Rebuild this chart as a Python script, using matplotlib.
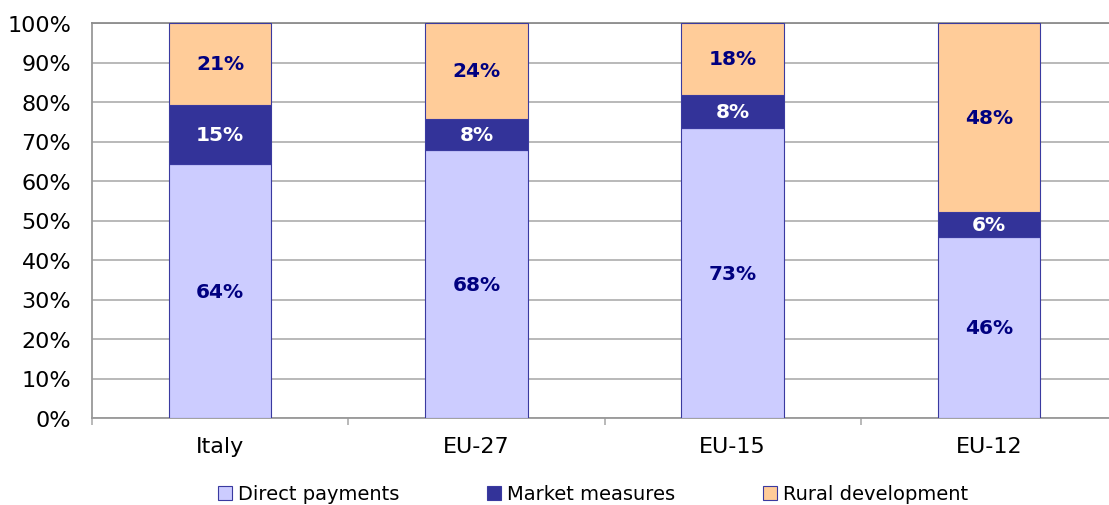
import matplotlib.pyplot as plt
import numpy as np

# shares of CAP spending (%)
regions = ['Italy', 'EU-27', 'EU-15', 'EU-12']
direct = [64.3, 67.8, 73.4, 45.8]
market = [15.0, 7.9, 8.4, 6.4]
rural = [20.7, 24.3, 18.2, 47.8]
series_names = ['Direct payments', 'Market measures', 'Rural development']

colors = ['#CCCCFF', '#333399', '#FFCC99']
label_colors = ['#000080', 'white', '#000080']
edge = '#3A3AA0'
grid_col = '#B3B3B3'

fig = plt.figure(figsize=(11.09, 5.06), dpi=100)
ax = fig.add_axes([92 / 1109, 87 / 506, 1025 / 1109, 395 / 506])

x = np.arange(len(regions))
bottom = np.zeros(len(regions))
for vals, col, lcol, name in zip([direct, market, rural], colors, label_colors, series_names):
    vals = np.array(vals)
    ax.bar(x, vals, 0.4, bottom=bottom, color=col, edgecolor=edge,
           linewidth=0.8, label=name, zorder=3)
    for xi, b, v in zip(x, bottom, vals):
        ax.text(xi, b + v / 2, '%d%%' % round(v), ha='center', va='center',
                color=lcol, fontsize=14.5, fontweight='bold', zorder=4)
    bottom += vals

ax.set_xlim(-0.5, 3.5)
ax.set_ylim(0, 100)
ax.set_yticks(np.arange(0, 101, 10))
ax.set_yticklabels(['%d%%' % v for v in range(0, 101, 10)])
ax.yaxis.grid(True, color=grid_col, linewidth=1.3, zorder=0)
ax.set_axisbelow(True)

ax.set_xticks(x)
ax.set_xticklabels(regions)
ax.set_xticks(np.arange(-0.5, 4, 1), minor=True)
ax.tick_params(axis='x', which='major', length=0, pad=13, labelsize=16)
ax.tick_params(axis='x', which='minor', length=5, color=grid_col, width=1.3)
ax.tick_params(axis='y', length=0, pad=15, labelsize=16)

for s in ['left', 'bottom']:
    ax.spines[s].set_color('#999999')
    ax.spines[s].set_linewidth(1.3)
ax.spines['right'].set_visible(False)
ax.spines['top'].set_color('#8C8C8C')
ax.spines['top'].set_linewidth(1.3)

fig.legend(loc='center', bbox_to_anchor=(593 / 1109, 1 - 495 / 506), ncol=3,
           frameon=False, fontsize=14, handlelength=0.75, handleheight=0.75,
           handletextpad=0.3, columnspacing=4.5)

fig.savefig('out.png', dpi=100)
